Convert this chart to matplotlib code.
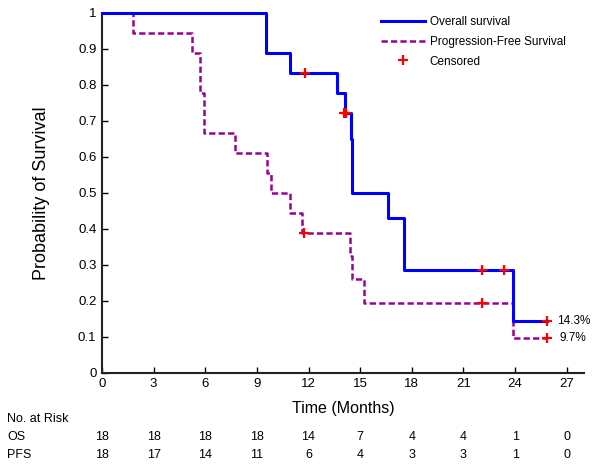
import matplotlib
matplotlib.use('Agg')
import matplotlib.pyplot as plt
import matplotlib.transforms as mtransforms

plt.rcParams['font.family'] = ['Liberation Sans', 'DejaVu Sans']
plt.rcParams['lines.scale_dashes'] = False

# step curves (time in months, survival probability)
os_t = [0, 9.5, 10.9, 13.65, 14.1, 14.45, 14.55, 16.6, 17.55, 23.9, 25.85]
os_s = [1, 0.889, 0.833, 0.778, 0.722, 0.65, 0.5, 0.429, 0.286, 0.143, 0.143]
pfs_t = [0, 1.8, 5.25, 5.7, 5.95, 7.75, 9.6, 9.8, 10.93, 11.64, 14.4, 14.5, 15.25, 23.87, 25.85]
pfs_s = [1, 0.944, 0.889, 0.778, 0.667, 0.611, 0.556, 0.5, 0.444, 0.389, 0.324, 0.259, 0.194, 0.097, 0.097]

# censored observations
cens_t = [11.77, 14.05, 14.18, 22.1, 23.35, 25.85, 11.76, 22.1, 25.85]
cens_s = [0.833, 0.722, 0.722, 0.286, 0.286, 0.143, 0.389, 0.194, 0.097]

risk_times = [0, 3, 6, 9, 12, 15, 18, 21, 24, 27]
risk_os = [18, 18, 18, 18, 14, 7, 4, 4, 1, 0]
risk_pfs = [18, 17, 14, 11, 6, 4, 3, 3, 1, 0]

fig = plt.figure(figsize=(6.02, 4.68), dpi=100)
ax = fig.add_axes([0.1694, 0.2036, 0.8006, 0.7693])

ax.plot(os_t, os_s, drawstyle='steps-post', color='#0000ff', lw=2.2,
        label='Overall survival', clip_on=False, zorder=3)
ax.plot(pfs_t, pfs_s, drawstyle='steps-post', color='#990099', lw=1.8,
        dashes=[4.5, 2.3], label='Progression-Free Survival', clip_on=False, zorder=2)
ax.plot(cens_t, cens_s, ls='none', marker='+', ms=7.5, mew=1.6, color='#ff0000',
        label='Censored', clip_on=False, zorder=4)

ax.text(26.45, 0.143, '14.3%', fontsize=8.5, va='center', ha='left')
ax.text(26.6, 0.097, '9.7%', fontsize=8.5, va='center', ha='left')

ax.set_xlim(0, 28)
ax.set_ylim(0, 1)
ax.set_xticks(risk_times)
ax.set_yticks([i / 10 for i in range(11)])
ax.set_yticklabels(['0', '0.1', '0.2', '0.3', '0.4', '0.5', '0.6', '0.7', '0.8', '0.9', '1'])
ax.tick_params(direction='in', length=4, width=1, labelsize=9.5, pad=4)
for s in ['top', 'right']:
    ax.spines[s].set_visible(False)
for s in ['left', 'bottom']:
    ax.spines[s].set_linewidth(1.5)
    ax.spines[s].set_color('#222222')

ax.set_xlabel('Time (Months)', fontsize=11.5, labelpad=8)
ax.set_ylabel('Probability of Survival', fontsize=13, labelpad=20)

ax.legend(loc='upper left', bbox_to_anchor=(0.578, 0.99), frameon=False,
          fontsize=8.5, handlelength=3.8, handletextpad=0.35, labelspacing=0.65,
          borderpad=0, borderaxespad=0)

# number at risk table
trans = mtransforms.blended_transform_factory(ax.transData, fig.transFigure)
fig.text(0.012, 1 - 419 / 468, 'No. at Risk', fontsize=9, va='center', ha='left')
fig.text(0.012, 1 - 437.5 / 468, 'OS', fontsize=9, va='center', ha='left')
fig.text(0.012, 1 - 455 / 468, 'PFS', fontsize=9, va='center', ha='left')
for t, a, b in zip(risk_times, risk_os, risk_pfs):
    ax.text(t, 1 - 437.5 / 468, str(a), transform=trans, fontsize=9, ha='center', va='center')
    ax.text(t, 1 - 455 / 468, str(b), transform=trans, fontsize=9, ha='center', va='center')

fig.savefig('out.png', dpi=100)
